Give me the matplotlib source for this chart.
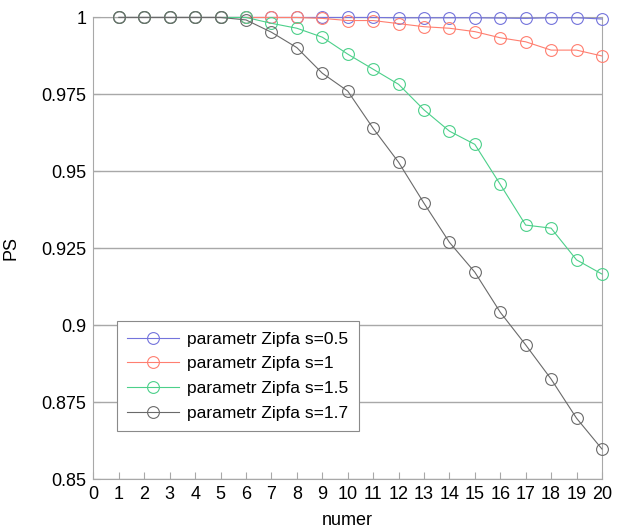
import numpy as np
import matplotlib.pyplot as plt

plt.rcParams['font.family'] = ['Liberation Sans', 'DejaVu Sans']

numer = list(range(1, 21))

ps_05 = [1.0, 1.0, 1.0, 1.0, 1.0, 1.0, 1.0, 1.0, 1.0, 1.0,
         1.0, 0.9999, 0.9999, 0.9999, 0.9999, 0.9998, 0.9997, 0.9999, 0.9999, 0.9995]
ps_1 = [1.0, 1.0, 1.0, 1.0, 1.0, 1.0, 1.0, 1.0, 0.9997, 0.999,
        0.999, 0.998, 0.997, 0.9965, 0.9954, 0.9934, 0.9921, 0.9894, 0.9894, 0.9875]
ps_15 = [1.0, 1.0, 1.0, 1.0, 1.0, 1.0, 0.9981, 0.9965, 0.9936, 0.9881,
         0.9832, 0.9783, 0.9700, 0.9631, 0.9588, 0.9458, 0.9326, 0.9316, 0.9213, 0.9167]
ps_17 = [1.0, 1.0, 1.0, 1.0, 1.0, 0.9992, 0.9952, 0.9902, 0.9819, 0.9761,
         0.9640, 0.9530, 0.9397, 0.9270, 0.9173, 0.9043, 0.8937, 0.8826, 0.8699, 0.8599]

labels = ['parametr Zipfa s=0.5', 'parametr Zipfa s=1',
          'parametr Zipfa s=1.5', 'parametr Zipfa s=1.7']
colors = ['#7474dc', '#ff7f70', '#4cd08a', '#6a6a6a']

fig = plt.figure(figsize=(6.39, 5.29), dpi=100)
ax = fig.add_axes([0.1463, 0.0936, 0.7957, 0.8734])

for ys, lab, c in zip([ps_05, ps_1, ps_15, ps_17], labels, colors):
    ax.plot(numer, ys, 'o-', color=c, mfc='none', mec=c, ms=8.5, lw=0.8,
            mew=0.8, label=lab, clip_on=False, zorder=3)

ax.set_xlim(0, 20)
ax.set_ylim(0.85, 1.0)
ax.set_xticks(range(0, 21))
ax.set_yticks([0.85, 0.875, 0.9, 0.925, 0.95, 0.975, 1.0])
ax.set_yticklabels(['0.85', '0.875', '0.9', '0.925', '0.95', '0.975', '1'])
ax.yaxis.grid(True, color='#a8a8a8', lw=1)
ax.set_axisbelow(True)
for s in ax.spines.values():
    s.set_color('#a8a8a8')
ax.tick_params(direction='in', length=5, color='#a8a8a8', labelsize=13, pad=5)
ax.set_xlabel('numer', fontsize=13, labelpad=6)
ax.set_ylabel('PS', fontsize=13, labelpad=16)

leg = ax.legend(loc='upper left', bbox_to_anchor=(0.046, 0.343), fontsize=12.5,
                fancybox=False, edgecolor='#8a8a8a', framealpha=1,
                handlelength=2.97, handletextpad=0.48, labelspacing=0.55,
                borderpad=0.6, borderaxespad=0)
leg.get_frame().set_linewidth(0.8)

fig.savefig('out.png', dpi=100)
